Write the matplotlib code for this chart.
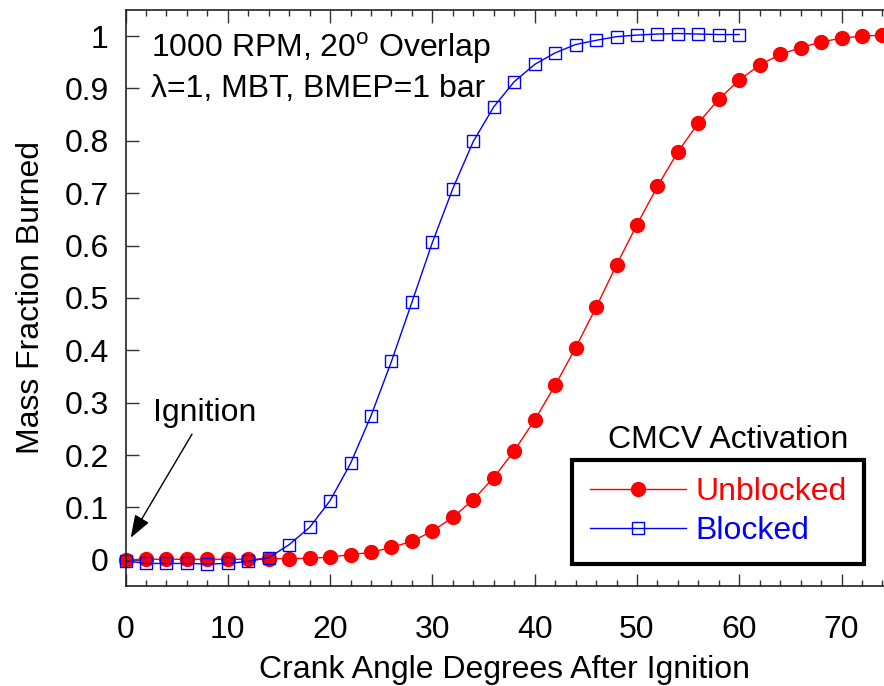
import numpy as np
import matplotlib
matplotlib.use('Agg')
import matplotlib.pyplot as plt
from matplotlib.ticker import MultipleLocator

plt.rcParams['font.family'] = ['Liberation Sans', 'DejaVu Sans']
plt.rcParams['mathtext.fontset'] = 'custom'
plt.rcParams['mathtext.rm'] = 'Liberation Sans'

# crank angle after ignition (deg)
ca_unblocked = list(range(0, 76, 2))
ca_blocked = list(range(0, 62, 2))

# mass fraction burned
mfb_unblocked = [0.000, 0.001, 0.001, 0.001, 0.001, 0.001, 0.001, 0.002, 0.002, 0.003,
                 0.005, 0.010, 0.014, 0.024, 0.035, 0.055, 0.081, 0.115, 0.157, 0.208,
                 0.267, 0.333, 0.405, 0.482, 0.563, 0.640, 0.713, 0.779, 0.834, 0.880,
                 0.916, 0.945, 0.965, 0.978, 0.989, 0.996, 1.000, 1.002]
mfb_blocked = [-0.002, -0.007, -0.007, -0.007, -0.008, -0.007, -0.003, 0.004, 0.029, 0.062,
               0.113, 0.184, 0.275, 0.379, 0.492, 0.606, 0.709, 0.799, 0.865, 0.913,
               0.946, 0.968, 0.984, 0.992, 0.999, 1.002, 1.004, 1.005, 1.004, 1.003,
               1.003]

fs = 23

fig = plt.figure(figsize=(8.84, 6.86), dpi=100)
ax = fig.add_axes([0.142, 0.1458, 0.858, 0.8397])

ax.plot(ca_unblocked, mfb_unblocked, color='#ff0000', lw=1.0, marker='o',
        ms=10, mec='#ff0000', mfc='#ff0000', label='Unblocked', clip_on=False)
ax.plot(ca_blocked, mfb_blocked, color='#0000ff', lw=1.0, marker='s',
        ms=8.5, mec='#0000ff', mfc='none', mew=1.0, label='Blocked', clip_on=False)

ax.set_xlim(0, 74.15)
ax.set_ylim(-0.05, 1.05)
ax.xaxis.set_major_locator(MultipleLocator(10))
ax.xaxis.set_minor_locator(MultipleLocator(2))
ax.set_yticks(np.arange(0, 1.01, 0.1))
ax.set_yticklabels(['0', '0.1', '0.2', '0.3', '0.4', '0.5', '0.6', '0.7', '0.8', '0.9', '1'])

ax.tick_params(axis='x', which='major', direction='in', top=True, length=9,
               width=1.0, labelsize=fs, pad=21, color='#333333')
ax.tick_params(axis='x', which='minor', direction='in', top=True, length=4,
               width=1.0, color='#333333')
ax.tick_params(axis='y', which='major', direction='in', right=False, length=9,
               width=1.0, labelsize=fs, pad=12, color='#333333')

for s in ['left', 'top', 'bottom']:
    ax.spines[s].set_linewidth(1.2)
    ax.spines[s].set_color('#222222')
ax.spines['right'].set_visible(False)

ax.set_xlabel('Crank Angle Degrees After Ignition', fontsize=fs, labelpad=7)
ax.set_ylabel('Mass Fraction Burned', fontsize=fs, labelpad=13)

ax.text(2.5, 0.977, '1000 RPM, 20$^\\mathregular{o}$ Overlap', fontsize=fs, va='center', ha='left')
ax.text(2.5, 0.899, '\u03bb=1, MBT, BMEP=1 bar', fontsize=fs, va='center', ha='left')

ax.text(2.7, 0.281, 'Ignition', fontsize=fs, va='center', ha='left')
ax.annotate('', xy=(0.5, 0.042), xytext=(6.5, 0.24),
            arrowprops=dict(arrowstyle='-|>,head_length=1.4,head_width=0.5',
                            mutation_scale=10, color='black', lw=1.0,
                            shrinkA=0, shrinkB=0))

ax.text(0.794, 0.253, 'CMCV Activation', fontsize=fs, ha='center', va='center',
        transform=ax.transAxes)
leg = ax.legend(loc='upper left', bbox_to_anchor=(0.589, 0.219), fontsize=fs,
                handlelength=3.0, handletextpad=0.3, labelspacing=0.28,
                borderpad=0.55, borderaxespad=0, fancybox=False, frameon=True,
                framealpha=1, labelcolor='linecolor')
leg.get_frame().set_edgecolor('black')
leg.get_frame().set_linewidth(3.0)

fig.savefig('out.png', dpi=100)
